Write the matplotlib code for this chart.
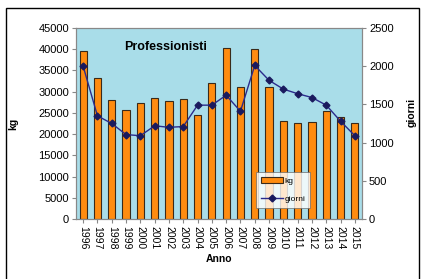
import numpy as np
import matplotlib.pyplot as plt
from matplotlib.patches import Rectangle

plt.rcParams['font.family'] = ['Liberation Sans', 'DejaVu Sans']

anni = [str(a) for a in range(1996, 2016)]
kg = [39500, 33200, 28000, 25600, 27300, 28400, 27700, 28300, 24500, 32000,
      40200, 31000, 40000, 31000, 23000, 22500, 22800, 25400, 24000, 22700]
giorni = [2000, 1350, 1250, 1105, 1090, 1220, 1200, 1210, 1490, 1490,
          1620, 1410, 2010, 1815, 1700, 1640, 1590, 1490, 1280, 1090]

fig = plt.figure(figsize=(4.21, 2.79), dpi=100)
W, H = 421, 279
ax = fig.add_axes([76 / W, 1 - 219 / H, (362 - 76) / W, (219 - 28) / H])
ax2 = ax.twinx()

# cornice esterna
fig.patches.append(Rectangle((6 / W, -0.05), (419 - 6) / W, 1.05 - 8 / H,
                             transform=fig.transFigure, fill=False,
                             edgecolor='black', linewidth=1.0))

x = np.arange(len(anni))
ax.set_facecolor('#A9DDE9')
b = ax.bar(x, kg, width=0.5, color='#FF8C10', edgecolor='#3A2A1A',
           linewidth=0.8, label='kg', zorder=2)
l, = ax2.plot(x, giorni, color='#2B2B8C', marker='D', markersize=3.5,
              markerfacecolor='#1A1A5E', markeredgecolor='#1A1A5E',
              linewidth=1.0, label='giorni')

ax.set_xlim(-0.5, len(anni) - 0.5)
ax.set_ylim(0, 45000)
ax.set_yticks(np.arange(0, 45001, 5000))
ax2.set_ylim(0, 2500)
ax2.set_yticks(np.arange(0, 2501, 500))
ax.set_xticks(x)
ax.set_xticklabels(anni, rotation=-90, fontsize=7.5)
ax.tick_params(axis='y', labelsize=8, length=3, color='#888888', pad=2)
ax2.tick_params(axis='y', labelsize=8, length=3, color='#888888', pad=2)
ax.tick_params(axis='x', length=3, color='#888888', pad=2)

for a in (ax, ax2):
    for s in a.spines.values():
        s.set_color('#888888')
        s.set_linewidth(0.8)

ax.set_ylabel('kg', fontsize=7.5, fontweight='bold')
ax.yaxis.set_label_coords(-58 / 286, 0.5)
ax2.set_ylabel('giorni', fontsize=7.5, fontweight='bold')
ax2.yaxis.set_label_coords(1 + 45 / 286, 0.56)
ax.set_xlabel('Anno', fontsize=7.5, fontweight='bold', labelpad=3)

ax.text(0.17, 0.9, 'Professionisti', transform=ax.transAxes,
        fontsize=9, fontweight='bold', ha='left', va='center')

leg = ax2.legend([b, l], ['kg', 'giorni'], loc='lower left',
                 bbox_to_anchor=(0.615, 0.035), fontsize=6,
                 frameon=True, fancybox=False, handlelength=2.6,
                 labelspacing=1.2, borderpad=0.6, handletextpad=0.2)
leg.get_frame().set_edgecolor('#666666')
leg.get_frame().set_linewidth(0.6)

fig.savefig('out.png', dpi=100)
